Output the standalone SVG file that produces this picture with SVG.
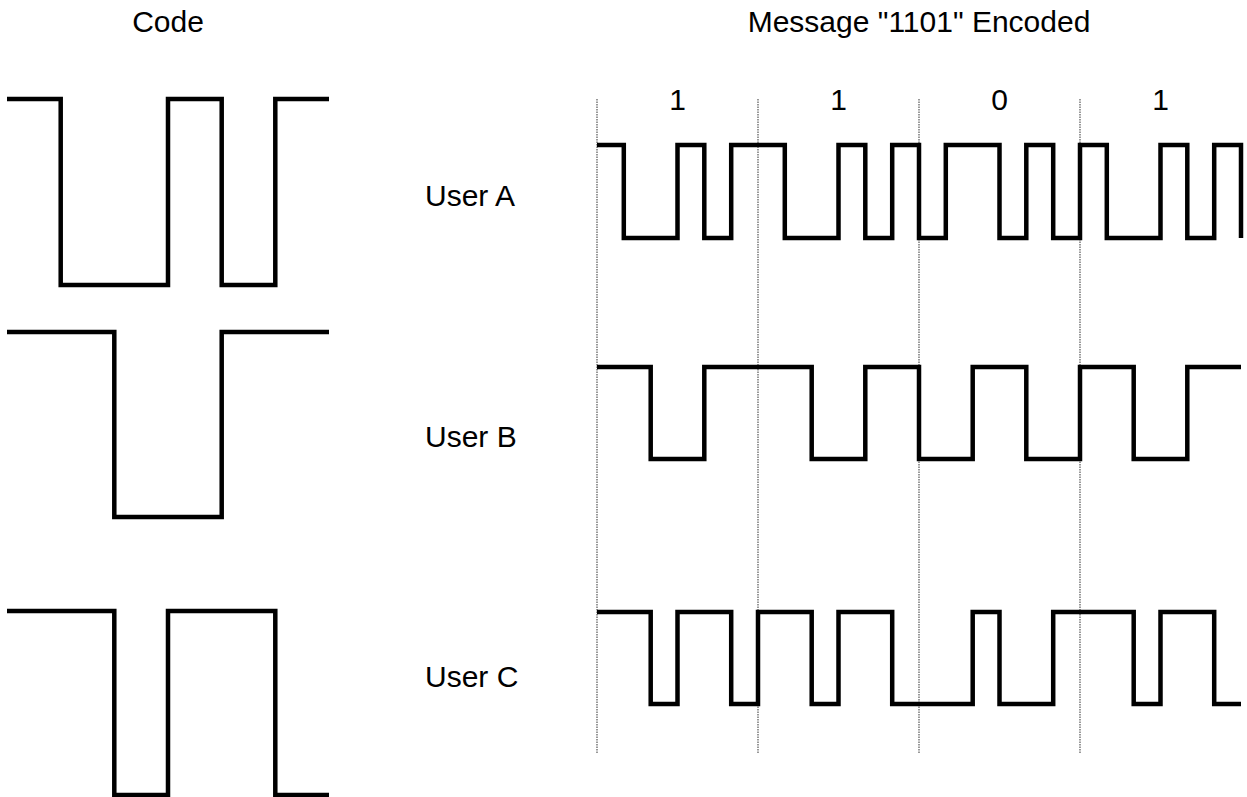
<svg xmlns="http://www.w3.org/2000/svg" width="1247" height="797" viewBox="0 0 1247 797">
<style>
text{font-family:"Liberation Sans",Arial,sans-serif;font-size:30px;fill:#000}
.t{text-anchor:middle}
.w{fill:none;stroke:#000;stroke-width:4.5;stroke-linejoin:miter;stroke-linecap:butt}
.g{fill:none;stroke:#555;stroke-width:1.2;stroke-dasharray:1.5 1}
</style>
<rect width="1247" height="797" fill="#fff"/>
<g id="titles">
<text class="t" x="168" y="32">Code</text>
<text class="t" x="919" y="32">Message "1101" Encoded</text>
</g>
<g id="bits">
<text class="t" x="677.5" y="110">1</text>
<text class="t" x="838.5" y="110">1</text>
<text class="t" x="999.5" y="110">0</text>
<text class="t" x="1160.5" y="110">1</text>
</g>
<g id="gridlines">
<line class="g" x1="597" y1="99" x2="597" y2="753"/>
<line class="g" x1="758" y1="99" x2="758" y2="753"/>
<line class="g" x1="919" y1="99" x2="919" y2="753"/>
<line class="g" x1="1080" y1="99" x2="1080" y2="753"/>
</g>
<g id="code-a"><path class="w" d="M7,99 H60.7 V285 H168 V99 H221.7 V285 H275.3 V99 H329"/></g>
<g id="code-b"><path class="w" d="M7,332 H114.3 V517 H221.7 V332 H329"/></g>
<g id="code-c"><path class="w" d="M7,611 H114.3 V795 H168 V611 H275.3 V795 H329"/></g>
<g id="user-a">
<text x="425" y="206">User A</text>
<path class="w" d="M597,145 H623.8 V238 H677.5 V145 H704.3 V238 H731.2 V145 H784.8 V238 H838.5 V145 H865.3 V238 H892.2 V145 H919 V238 H945.8 V145 H999.5 V238 H1026.3 V145 H1053.2 V238 H1080 V145 H1106.8 V238 H1160.5 V145 H1187.3 V238 H1214.2 V145 H1241 V238"/>
</g>
<g id="user-b">
<text x="425" y="447">User B</text>
<path class="w" d="M597,367 H650.7 V459 H704.3 V367 H811.7 V459 H865.3 V367 H919 V459 H972.7 V367 H1026.3 V459 H1080 V367 H1133.7 V459 H1187.3 V367 H1241"/>
</g>
<g id="user-c">
<text x="425" y="687">User C</text>
<path class="w" d="M597,612 H650.7 V704 H677.5 V612 H731.2 V704 H758 V612 H811.7 V704 H838.5 V612 H892.2 V704 H972.7 V612 H999.5 V704 H1053.2 V612 H1133.7 V704 H1160.5 V612 H1214.2 V704 H1241"/>
</g>
<g id="connectors"/>
</svg>
